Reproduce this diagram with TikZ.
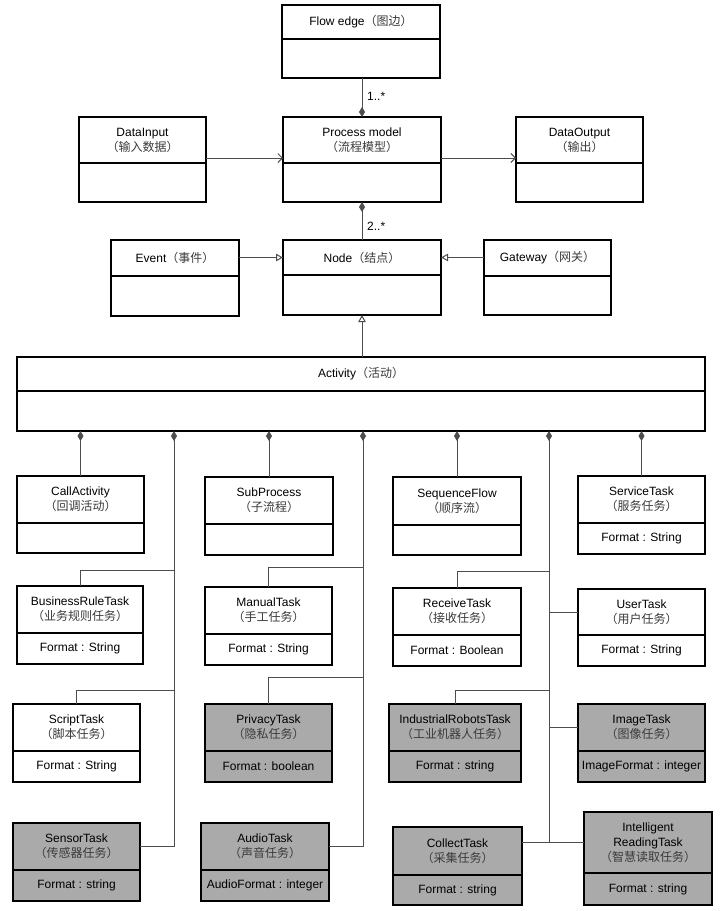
\documentclass[tikz,border=0pt]{standalone}
\usepackage{fontspec}
\setmainfont{Liberation Sans}
\newfontfamily\cjk{Noto Sans CJK SC}
\usetikzlibrary{arrows.meta}

\definecolor{linegray}{HTML}{4D4D4D}
\definecolor{taskgray}{HTML}{AAAAAA}
\definecolor{cjkgray}{HTML}{3A3A3A}
\newcommand{\zh}[1]{{\cjk\color{cjkgray}#1}}

\tikzset{
  classbox/.style={draw=black, line width=1.4pt, fill=white, rectangle,
    inner sep=0pt, outer sep=0pt},
  shaded/.style={fill=taskgray},
  classrule/.style={draw=black, line width=1.4pt},
  boxtext/.style={font=\fontsize{12}{15}\selectfont, align=center, inner sep=0pt},
  conn/.style={draw=linegray, line width=1pt},
  compose/.style={conn, {Diamond[length=10pt,width=6pt,fill=linegray]}-},
  usesarrow/.style={conn, -{Straight Barb[length=4.5pt,width=9pt]}},
  genarrow/.style={conn, -{Triangle[open,length=7pt,width=7.5pt,fill=white]}},
}

% \umlclass[style]{name}{left}{top}{right}{divider}{bottom}{header}{attributes}
\newcommand{\umlclass}[9][]{%
  \node[classbox,#1,minimum width={(#5-#3)*1pt},minimum height={(#7-#4)*1pt},
        anchor=north west] (#2) at (#3,#4) {};
  \draw[classrule] (#3,#6) -- (#5,#6);
  \node[boxtext] (#2-head) at ({(#3+#5)/2},{(#4+#6)/2}) {#8};
  \node[boxtext] (#2-attr) at ({(#3+#5)/2},{(#6+#7)/2}) {#9};
}

\begin{document}
\begin{tikzpicture}[x=1pt,y=-1pt]
\useasboundingbox (0,0) rectangle (724,911);

% core model
\umlclass{flowedge}{282}{5}{440}{39}{78}{Flow edge\zh{（图边）}}{}
\umlclass{procmodel}{283}{117}{441}{163}{202}{Process model\\\zh{（流程模型）}}{}
\umlclass{datain}{79}{117}{206}{163}{202}{DataInput\\\zh{（输入数据）}}{}
\umlclass{dataout}{516}{117}{643}{163}{202}{DataOutput\\\zh{（输出）}}{}
\umlclass{nodecls}{283}{240}{441}{275}{315}{Node\zh{（结点）}}{}
\umlclass{event}{111}{240}{239}{276}{316}{Event\zh{（事件）}}{}
\umlclass{gateway}{484}{240}{611}{276}{315}{Gateway\zh{（网关）}}{}
\umlclass{activity}{17}{357}{705}{391}{431}{Activity\zh{（活动）}}{}

% activity kinds
\umlclass{callact}{17}{476}{144}{523}{553}{CallActivity\\\zh{（回调活动）}}{}
\umlclass{subproc}{205}{477}{333}{524}{555}{SubProcess\\\zh{（子流程）}}{}
\umlclass{seqflow}{393}{477}{521}{525}{555}{SequenceFlow\\\zh{（顺序流）}}{}
\umlclass{service}{578}{476}{705}{523}{554}{ServiceTask\\\zh{（服务任务）}}{Format : String}

\umlclass{bizrule}{17}{586}{143}{633}{664}{BusinessRuleTask\\\zh{（业务规则任务）}}{Format : String}
\umlclass{manual}{205}{587}{332}{634}{665}{ManualTask\\\zh{（手工任务）}}{Format : String}
\umlclass{receive}{393}{588}{521}{635}{666}{ReceiveTask\\\zh{（接收任务）}}{Format : Boolean}
\umlclass{usertask}{578}{589}{705}{635}{666}{UserTask\\\zh{（用户任务）}}{Format : String}

\umlclass{script}{13}{704}{140}{751}{782}{ScriptTask\\\zh{（脚本任务）}}{Format : String}
\umlclass[shaded]{privacy}{205}{704}{332}{751}{782}{PrivacyTask\\\zh{（隐私任务）}}{Format : boolean}
\umlclass[shaded]{industrial}{389}{704}{521}{751}{782}{IndustrialRobotsTask\\\zh{（工业机器人任务）}}{Format : string}
\umlclass[shaded]{image}{578}{704}{705}{751}{782}{ImageTask\\\zh{（图像任务）}}{ImageFormat : integer}

\umlclass[shaded]{sensor}{13}{823}{140}{870}{901}{SensorTask\\\zh{（传感器任务）}}{Format : string}
\umlclass[shaded]{audio}{201}{823}{329}{870}{901}{AudioTask\\\zh{（声音任务）}}{AudioFormat : integer}
\umlclass[shaded]{collect}{393}{827}{522}{875}{905}{CollectTask\\\zh{（采集任务）}}{Format : string}
\umlclass[shaded]{intread}{584}{812}{712}{873}{905}{Intelligent\\ReadingTask\\\zh{（智慧读取任务）}}{Format : string}

% associations around the process model
\draw[compose] (procmodel.north) -- (procmodel.north |- flowedge.south);
\node[boxtext, anchor=west] (mult1) at (367,96) {1..*};
\draw[usesarrow] (datain.east |- 0,158) -- (procmodel.west |- 0,158);
\draw[usesarrow] (procmodel.east |- 0,158) -- (dataout.west |- 0,158);
\draw[compose] (procmodel.south) -- (procmodel.south |- nodecls.north);
\node[boxtext, anchor=west] (mult2) at (367,226) {2..*};

% generalisations into Node
\draw[genarrow] (event.east |- nodecls-head) -- (nodecls.west |- nodecls-head);
\draw[genarrow] (gateway.west |- nodecls-head) -- (nodecls.east |- nodecls-head);
\draw[genarrow] (activity.north -| nodecls.south) -- (nodecls.south);

% direct parts of Activity
\draw[compose] (activity.south -| callact.north) -- (callact.north);
\draw[compose] (activity.south -| subproc.north) -- (subproc.north);
\draw[compose] (activity.south -| seqflow.north) -- (seqflow.north);
\draw[compose] (activity.south -| service.north) -- (service.north);

% trunk lines with branches
\coordinate (trunkA) at (activity.south -| 174,0);
\coordinate (trunkB) at (activity.south -| 363,0);
\coordinate (trunkC) at (activity.south -| 549,0);

\draw[compose] (trunkA) |- (sensor.east |- sensor-head);
\draw[conn] (trunkA |- 0,570) -| (bizrule.north);
\draw[conn] (trunkA |- 0,690) -| (script.north);

\draw[compose] (trunkB) |- (audio.east |- audio-head);
\draw[conn] (trunkB |- 0,567) -| (manual.north);
\draw[conn] (trunkB |- 0,677) -| (privacy.north);

\draw[compose] (trunkC) |- (intread.west |- intread-head);
\draw[conn] (trunkC |- 0,571) -| (receive.north);
\draw[conn] (trunkC |- usertask-head) -- (usertask.west |- usertask-head);
\draw[conn] (trunkC |- 0,690) -| (industrial.north);
\draw[conn] (trunkC |- image-head) -- (image.west |- image-head);
\draw[conn] (collect.east |- intread-head) -- (trunkC |- intread-head);
\end{tikzpicture}
\end{document}
